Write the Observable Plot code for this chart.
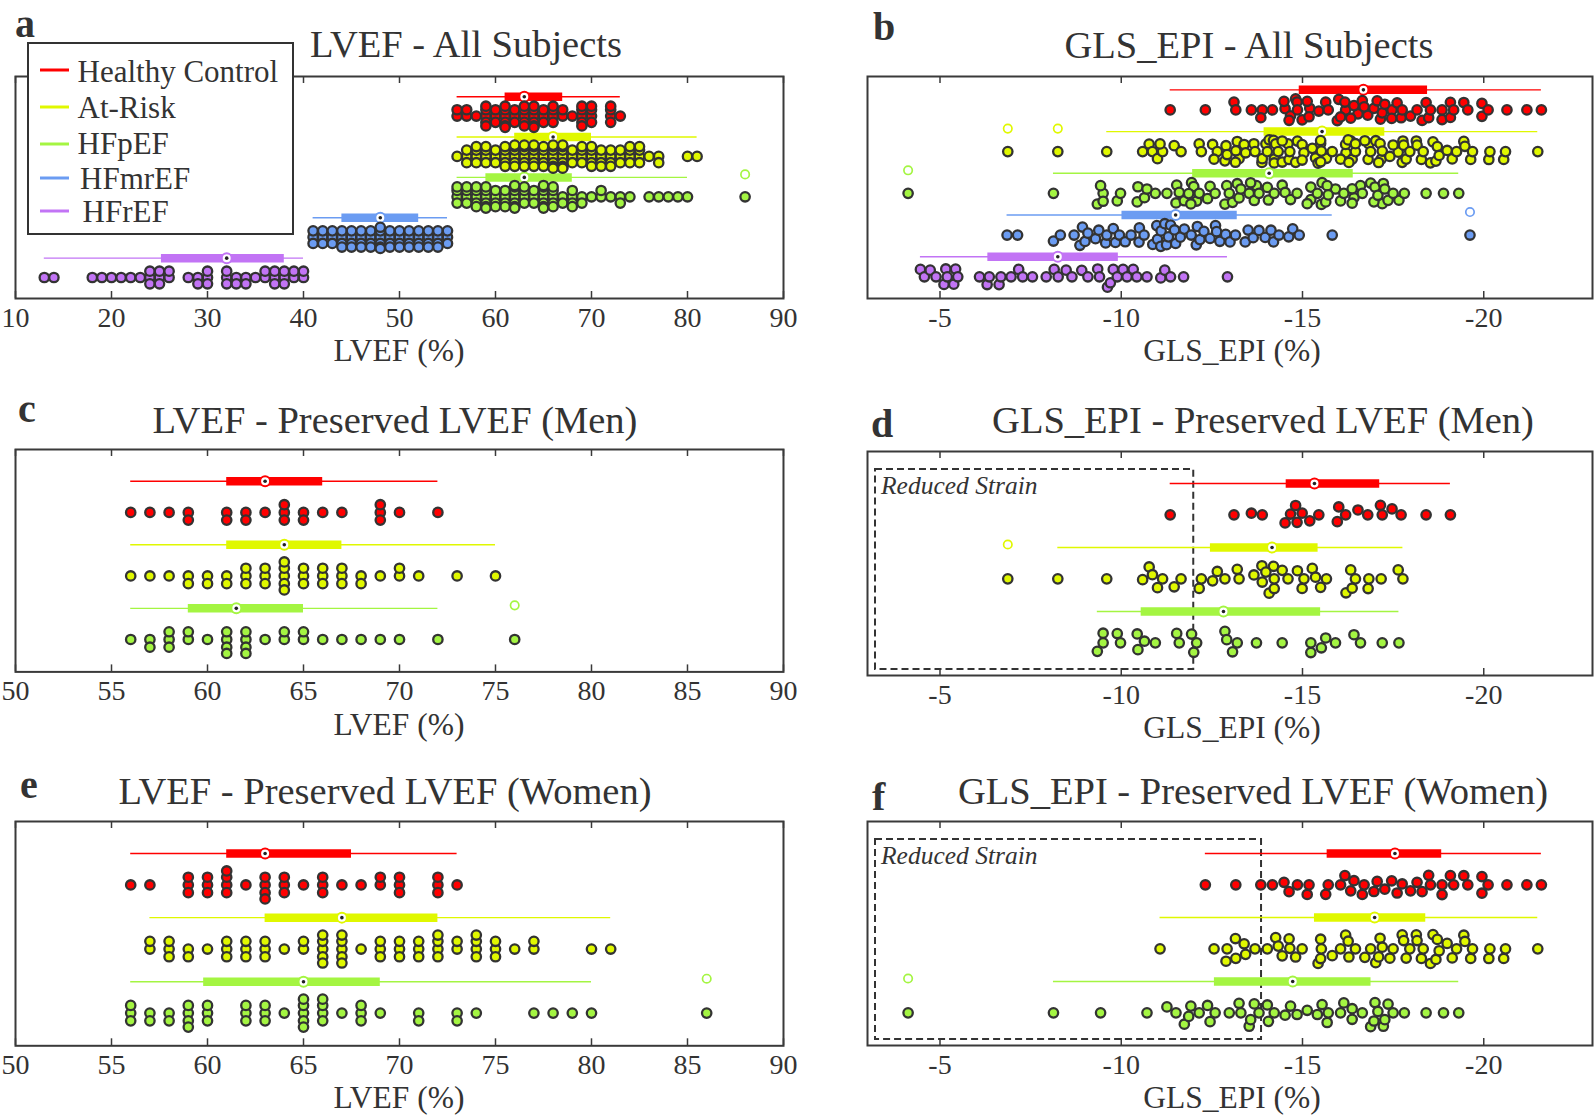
<!DOCTYPE html>
<html><head><meta charset="utf-8">
<script src="https://cdn.jsdelivr.net/npm/d3@7"></script>
<script src="https://cdn.jsdelivr.net/npm/@observablehq/plot@0.6"></script>
<style>
html,body{margin:0;padding:0;background:#fff;}
#fig{position:relative;width:1594px;height:1116px;overflow:hidden;background:#fff;}
.panel{position:absolute;}
#overlay{position:absolute;left:0;top:0;pointer-events:none;}
</style></head><body><div id="fig"></div>
<script>
// ---------- categories & colours ----------
const groups = ["Healthy Control", "At-Risk", "HFpEF", "HFmrEF", "HFrEF"];
const groupColors = ["#ff0000", "#e0f800", "#a4f542", "#6b9cf2", "#c274f5"];

// ---------- LVEF (%) values ----------
const lvefMenHC = [56,57,58,59,59,61,61,62,62,63,64,64,64,65,65,66,67,69,69,69,70,72];
const lvefMenAR = [56,57,58,59,59,60,60,61,61,62,62,62,63,63,63,64,64,64,64,64,65,65,65,66,66,66,67,67,67,68,68,69,70,70,71,73,75];
const lvefMenPEF = [56,57,57,58,58,58,59,59,60,61,61,61,61,62,62,62,62,63,64,64,65,65,66,67,68,69,70,72,76];
const lvefWomenHC = [56,57,59,59,59,60,60,60,61,61,61,61,62,63,63,63,63,64,64,64,65,66,66,66,67,68,69,69,70,70,70,72,72,72,73];
const lvefWomenAR = [57,57,58,58,58,59,59,60,61,61,61,62,62,62,63,63,63,64,65,65,66,66,66,66,66,67,67,67,67,67,68,69,69,69,70,70,70,71,71,71,72,72,72,72,73,73,74,74,74,74,75,75,75,76,77,77,80,81];
const lvefWomenPEF = [56,56,56,57,57,58,58,59,59,59,59,60,60,60,62,62,62,63,63,63,64,65,65,65,65,65,66,66,66,66,67,68,68,68,69,71,71,73,73,74,77,78,79,80,86];
const lvefMR = [41,41,41,42,42,42,43,43,43,44,44,44,44,45,45,45,45,46,46,46,46,47,47,47,47,48,48,48,48,48,48,49,49,49,49,50,50,50,50,51,51,51,51,52,52,52,52,53,53,53,53,54,54,54,54,55,55,55];
const lvefREF = [13,14,18,19,20,21,22,23,24,24,24,25,25,25,26,26,28,29,29,30,30,30,32,32,32,33,33,34,34,35,36,36,37,37,37,38,38,38,39,39,40,40];

// ---------- GLS_EPI (%) values ----------
const glsMenHC = [-11.35,-13.11,-13.59,-13.89,-14.52,-14.67,-14.81,-14.85,-14.99,-15.2,-15.45,-15.96,-16.0,-16.19,-16.53,-16.8,-17.15,-17.2,-17.47,-17.72,-18.41,-19.08];
const glsMenAR = [-6.87,-8.25,-9.6,-10.59,-10.77,-10.86,-11.0,-11.14,-11.46,-11.65,-12.15,-12.21,-12.52,-12.65,-12.86,-13.2,-13.25,-13.66,-13.88,-13.89,-13.99,-14.08,-14.2,-14.22,-14.22,-14.44,-14.6,-14.86,-14.99,-15.04,-15.27,-15.36,-15.5,-15.66,-16.2,-16.33,-16.37,-16.46,-16.81,-16.83,-17.17,-17.64,-17.77];
const glsMenPEF = [-9.34,-9.5,-9.5,-9.89,-9.98,-10.44,-10.46,-10.64,-10.94,-11.53,-11.6,-11.94,-12.0,-12.08,-12.86,-12.91,-13.07,-13.2,-13.73,-14.44,-15.23,-15.23,-15.52,-15.64,-15.91,-16.42,-16.6,-17.2,-17.66];
const glsWomenHC = [-12.32,-13.16,-13.85,-14.17,-14.49,-14.63,-14.86,-15.13,-15.18,-15.64,-15.71,-16.05,-16.17,-16.33,-16.42,-16.65,-16.7,-16.97,-17.06,-17.27,-17.46,-17.61,-17.75,-17.98,-18.16,-18.3,-18.48,-18.53,-18.85,-18.85,-19.08,-19.17,-19.45,-19.56,-19.95,-19.95,-20.12,-20.64,-21.19,-21.59];
const glsWomenAR = [-11.07,-12.56,-12.89,-12.92,-13.16,-13.15,-13.39,-13.43,-13.69,-14.03,-14.26,-14.33,-14.44,-14.63,-14.65,-14.81,-14.99,-15.43,-15.5,-15.52,-15.5,-15.82,-16.05,-16.19,-16.26,-16.28,-16.46,-16.72,-16.88,-17.02,-17.14,-17.2,-17.1,-17.41,-17.5,-17.75,-17.79,-17.86,-17.96,-18.14,-18.16,-18.28,-18.33,-18.53,-18.6,-18.68,-18.72,-18.77,-18.99,-19.13,-19.25,-19.45,-19.48,-19.64,-19.69,-20.14,-20.17,-20.55,-20.6,-21.49];
const glsWomenPEF = [-4.12,-8.13,-9.43,-10.71,-11.26,-11.51,-11.74,-11.86,-11.92,-12.15,-12.38,-12.45,-12.59,-12.98,-13.25,-13.3,-13.53,-13.57,-13.67,-13.8,-14.06,-14.03,-14.22,-14.52,-14.67,-14.85,-15.13,-15.41,-15.54,-15.68,-15.71,-16.05,-16.14,-16.37,-16.37,-16.65,-16.88,-16.97,-17.0,-17.08,-17.23,-17.27,-17.36,-17.5,-17.81,-18.41,-18.89,-19.31];
const glsMR = [-6.85,-7.14,-8.13,-8.32,-8.7,-8.86,-8.93,-9.0,-9.08,-9.29,-9.38,-9.57,-9.6,-9.78,-9.84,-9.95,-10.11,-10.27,-10.49,-10.5,-10.63,-10.87,-10.98,-11.0,-11.09,-11.1,-11.2,-11.25,-11.3,-11.36,-11.47,-11.5,-11.63,-11.74,-11.93,-12.07,-12.1,-12.17,-12.28,-12.45,-12.6,-12.63,-12.72,-12.88,-13.0,-13.15,-13.42,-13.5,-13.64,-13.8,-13.97,-14.13,-14.2,-14.35,-14.62,-14.73,-14.91,-15.82,-19.62];
const glsREF = [-4.46,-4.57,-4.73,-4.89,-5.11,-5.16,-5.2,-5.38,-5.43,-5.49,-6.09,-6.3,-6.36,-6.63,-6.68,-6.96,-7.17,-7.28,-7.55,-7.93,-8.15,-8.26,-8.48,-8.64,-8.91,-9.08,-9.35,-9.4,-9.62,-9.7,-9.78,-9.89,-10.05,-10.16,-10.33,-10.43,-10.71,-11.09,-11.2,-11.36,-11.72,-12.93];

// ---------- box statistics [whisker low, Q1, median, Q3, whisker high] ----------
const statsLvefAll = [[56,61,63,67,73],[56,62,66,70,81],[56,59,63,68,80],[41,44,48,52,55],[13,25.2,32,38,40]];
const statsGlsAll = [[-11.35,-14.91,-16.68,-18.45,-21.59],[-9.6,-13.94,-15.54,-17.27,-21.49],[-8.13,-11.97,-14.08,-16.4,-19.31],[-6.85,-10.02,-11.5,-13.2,-15.82],[-4.46,-6.32,-8.25,-9.92,-12.93]];
const statsLvefMen = [[56,61,63,66,72],[56,61,64,67,75],[56,59,61.5,65,72]];
const statsGlsMen = [[-11.35,-14.55,-15.33,-17.13,-19.08],[-8.25,-12.46,-14.16,-15.43,-17.77],[-9.34,-10.55,-12.82,-15.5,-17.66]];
const statsLvefWomen = [[56,61,63,67.5,73],[57,63,67,72,81],[56,59.8,65,69,80]];
const statsGlsWomen = [[-12.32,-15.68,-17.55,-18.84,-21.59],[-11.07,-15.33,-16.99,-18.4,-21.49],[-8.13,-12.57,-14.73,-16.89,-19.31]];

// reduced strain thresholds
const reducedStrainMen = -12.0;
const reducedStrainWomen = -13.87;

// ---------- ticks ----------
const lvefAllTicks = [10,20,30,40,50,60,70,80,90];
const lvefPresTicks = [50,55,60,65,70,75,80,85,90];
const glsTicks = [-5,-10,-15,-20];

// ---------- swarm layout (deterministic beeswarm, softly compressed) ----------
function swarm(vals, pxX, D, W) {
  const idx = vals.map((v, i) => i).sort((a, b) => vals[a] - vals[b]);
  const placed = [], off = new Array(vals.length);
  idx.forEach((i, k) => {
    const x = vals[i] * pxX;
    const iv = [];
    for (const p of placed) {
      const dx = Math.abs(p.x - x);
      if (dx < D) { const h = Math.sqrt(D * D - dx * dx); iv.push([p.y - h, p.y + h]); }
    }
    const cands = [0];
    for (const [a, b] of iv) cands.push(a, b);
    const sgn = k % 2 ? 1 : -1;
    cands.sort((a, b) => (Math.abs(a) - Math.abs(b)) || sgn * (a - b));
    let y = 0;
    for (const c of cands) {
      if (iv.every(([a, b]) => c <= a + 1e-6 || c >= b - 1e-6)) { y = c; break; }
    }
    placed.push({x, y});
    off[i] = y;
  });
  return off.map(y => W * Math.tanh(y / W));
}

const panels = [
  {key:"a", left:0, frameTop:76, fh:222, width:800, ml:15, mr:17, xDomain:[10,90], ticks:lvefAllTicks,
   yDomain:[-0.5,5], dotOff:0.48, D:7, W:12, groups:groups,
   values:[lvefMenHC.concat(lvefWomenHC), lvefMenAR.concat(lvefWomenAR), lvefMenPEF.concat(lvefWomenPEF), lvefMR, lvefREF],
   stats:statsLvefAll},
  {key:"b", left:850, frameTop:76, fh:222, width:744, ml:17, mr:2, xDomain:[-3,-23], ticks:glsTicks,
   yDomain:[-0.32,5], dotOff:0.48, D:9.5, W:12, groups:groups,
   values:[glsMenHC.concat(glsWomenHC), glsMenAR.concat(glsWomenAR), glsMenPEF.concat(glsWomenPEF), glsMR, glsREF],
   stats:statsGlsAll},
  {key:"c", left:0, frameTop:449.3, fh:222.4, width:800, ml:15, mr:17, xDomain:[50,90], ticks:lvefPresTicks,
   yDomain:[-0.5,3], dotOff:0.49, D:8, W:24, groups:groups.slice(0,3),
   values:[lvefMenHC, lvefMenAR, lvefMenPEF], stats:statsLvefMen},
  {key:"d", left:850, frameTop:451, fh:224, width:744, ml:17, mr:2, xDomain:[-3,-23], ticks:glsTicks,
   yDomain:[-0.5,3], dotOff:0.49, D:11, W:17, groups:groups.slice(0,3),
   values:[glsMenHC, glsMenAR, glsMenPEF], stats:statsGlsMen, reduced:reducedStrainMen},
  {key:"e", left:0, frameTop:820.7, fh:224.3, width:800, ml:15, mr:17, xDomain:[50,90], ticks:lvefPresTicks,
   yDomain:[-0.5,3], dotOff:0.49, D:8, W:24, groups:groups.slice(0,3),
   values:[lvefWomenHC, lvefWomenAR, lvefWomenPEF], stats:statsLvefWomen},
  {key:"f", left:850, frameTop:821, fh:224, width:744, ml:17, mr:2, xDomain:[-3,-23], ticks:glsTicks,
   yDomain:[-0.5,3], dotOff:0.49, D:11, W:17, groups:groups.slice(0,3),
   values:[glsWomenHC, glsWomenAR, glsWomenPEF], stats:statsGlsWomen, reduced:reducedStrainWomen}
];

const fig = document.getElementById("fig");
const ink = "#333333";
const mt = 10, mb = 42;

for (const p of panels) {
  const pxX = (p.width - p.ml - p.mr) / Math.abs(p.xDomain[1] - p.xDomain[0]);
  const pxY = p.fh / (p.yDomain[1] - p.yDomain[0]);
  const pts = [], outs = [], boxes = [];
  p.groups.forEach((g, i) => {
    const vals = p.values[i];
    const off = swarm(vals, pxX, p.D, p.W);
    vals.forEach((v, j) => pts.push({group: g, v, y: i + p.dotOff + off[j] / pxY}));
    const [lo, q1, med, q3, hi] = p.stats[i];
    boxes.push({group: g, row: i, lo, q1, med, q3, hi});
    const mn = Math.min(lo, hi) - 1e-6, mx = Math.max(lo, hi) + 1e-6;
    vals.filter(v => v < mn || v > mx).forEach(v => outs.push({group: g, row: i, v}));
  });
  const marks = [];
  if (p.reduced !== undefined) {
    marks.push(Plot.rect([p.reduced], {
      x1: () => p.xDomain[0], x2: d => d, y1: () => p.yDomain[0], y2: () => p.yDomain[1],
      insetLeft: 8, insetTop: 18, insetBottom: 6,
      fill: "none", stroke: ink, strokeWidth: 2, strokeDasharray: "7,4"
    }));
  }
  marks.push(
    Plot.frame({stroke: "#3a3a3a", strokeWidth: 2}),
    Plot.ruleX(p.ticks, {x: d => d, insetBottom: p.fh - 7, stroke: "#3a3a3a", strokeWidth: 1.5}),
    Plot.ruleX(p.ticks, {x: d => d, insetTop: p.fh - 7, stroke: "#3a3a3a", strokeWidth: 1.5}),
    Plot.axisX(p.ticks, {tickSize: 0, tickPadding: 8.5, tickFormat: d => String(d), label: null, fill: ink}),
    Plot.ruleY(boxes, {y: "row", x1: "lo", x2: "hi", stroke: "group", strokeWidth: 1.4}),
    Plot.ruleY(boxes, {y: "row", x1: "q1", x2: "q3", stroke: "group", strokeWidth: 8.5}),
    Plot.dot(outs, {x: "v", y: "row", dy: -3, r: 4.2, fill: "none", stroke: "group", strokeWidth: 1.7}),
    Plot.dot(boxes, {x: "med", y: "row", r: 5, fill: "white", stroke: "group", strokeWidth: 2}),
    Plot.dot(boxes, {x: "med", y: "row", r: 1.8, fill: "#222"}),
    Plot.dot(pts, {x: "v", y: "y", r: 4.7, fill: "group", stroke: ink, strokeWidth: 2.3})
  );
  const chart = Plot.plot({
    width: p.width, height: mt + p.fh + mb,
    marginLeft: p.ml, marginRight: p.mr, marginTop: mt, marginBottom: mb,
    x: {domain: p.xDomain, label: null},
    y: {domain: p.yDomain, reverse: true, axis: null},
    color: {domain: groups, range: groupColors},
    style: {background: "transparent", overflow: "visible", maxWidth: "none",
            fontFamily: "'Liberation Serif', 'Times New Roman', serif", fontSize: "28px", color: ink},
    marks
  });
  const div = document.createElement("div");
  div.className = "panel";
  div.style.left = p.left + "px";
  div.style.top = (p.frameTop - mt) + "px";
  div.appendChild(chart);
  fig.appendChild(div);
}

// ---------- text overlay: titles, labels, letters, legend ----------
const titles = [
  {t: "LVEF - All Subjects", x: 466, y: 57},
  {t: "GLS_EPI - All Subjects", x: 1249, y: 58},
  {t: "LVEF - Preserved LVEF (Men)", x: 395, y: 433},
  {t: "GLS_EPI - Preserved LVEF (Men)", x: 1263, y: 433},
  {t: "LVEF - Preserved LVEF (Women)", x: 385, y: 804},
  {t: "GLS_EPI - Preserved LVEF (Women)", x: 1253, y: 804}
];
const axisLabels = [
  {t: "LVEF (%)", x: 399, y: 361}, {t: "GLS_EPI (%)", x: 1232, y: 361},
  {t: "LVEF (%)", x: 399, y: 735}, {t: "GLS_EPI (%)", x: 1232, y: 738},
  {t: "LVEF (%)", x: 399, y: 1108}, {t: "GLS_EPI (%)", x: 1232, y: 1108}
];
const letters = [
  {t: "a", x: 15, y: 37}, {t: "b", x: 873, y: 40}, {t: "c", x: 18, y: 422},
  {t: "d", x: 871, y: 437}, {t: "e", x: 20, y: 798}, {t: "f", x: 872, y: 810}
];
const notes = [{t: "Reduced Strain", x: 881, y: 494}, {t: "Reduced Strain", x: 881, y: 864}];
const legendRows = [
  {y: 70, ty: 81.5, tx: 77.5}, {y: 107, ty: 117.5, tx: 77.5}, {y: 144, ty: 154, tx: 77.5},
  {y: 178, ty: 189, tx: 80}, {y: 211, ty: 222, tx: 82.5}
];

const svg = d3.create("svg").attr("id", "overlay").attr("width", 1594).attr("height", 1116)
  .style("font-family", "'Liberation Serif', 'Times New Roman', serif");
svg.selectAll(".title").data(titles).join("text")
  .attr("x", d => d.x).attr("y", d => d.y).attr("text-anchor", "middle")
  .attr("font-size", 38.5).attr("fill", ink).text(d => d.t);
svg.selectAll(".alabel").data(axisLabels).join("text")
  .attr("x", d => d.x).attr("y", d => d.y).attr("text-anchor", "middle")
  .attr("font-size", 31.5).attr("fill", ink).text(d => d.t);
svg.selectAll(".letter").data(letters).join("text")
  .attr("x", d => d.x).attr("y", d => d.y).attr("font-weight", "bold")
  .attr("font-size", 40).attr("fill", ink).text(d => d.t);
svg.selectAll(".note").data(notes).join("text")
  .attr("x", d => d.x).attr("y", d => d.y).attr("font-style", "italic")
  .attr("font-size", 25.5).attr("fill", ink).text(d => d.t);
const lg = svg.append("g");
lg.append("rect").attr("x", 28).attr("y", 43).attr("width", 265).attr("height", 191)
  .attr("fill", "white").attr("stroke", ink).attr("stroke-width", 2);
const rows = lg.selectAll("g").data(groups).join("g");
rows.append("line").attr("x1", 40).attr("x2", 69)
  .attr("y1", (d, i) => legendRows[i].y).attr("y2", (d, i) => legendRows[i].y)
  .attr("stroke", (d, i) => groupColors[i]).attr("stroke-width", 3);
rows.append("text").attr("x", (d, i) => legendRows[i].tx).attr("y", (d, i) => legendRows[i].ty)
  .attr("font-size", 31).attr("fill", ink).text(d => d);
fig.appendChild(svg.node());
</script></body></html>
